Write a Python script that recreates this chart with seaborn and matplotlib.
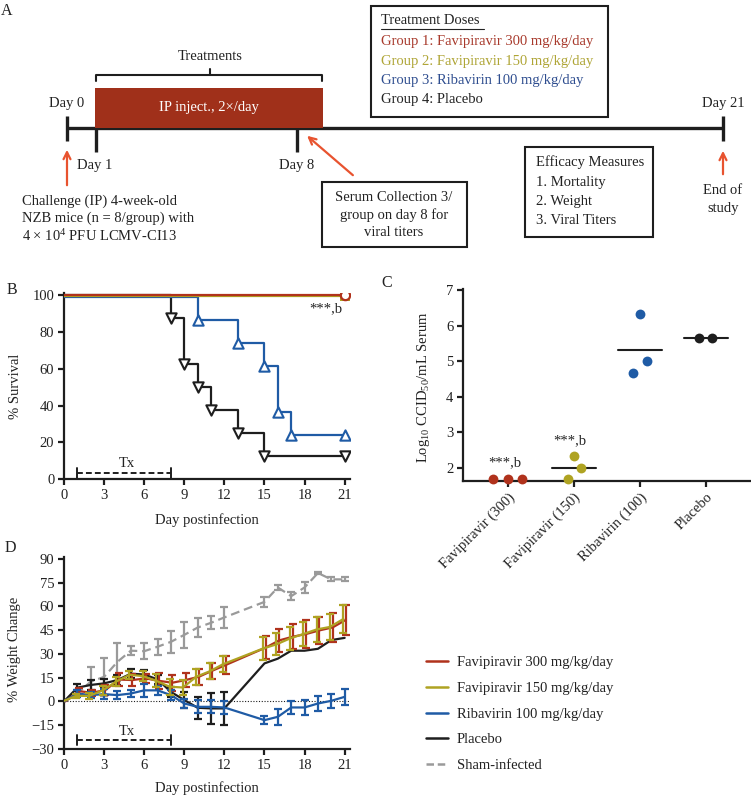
import numpy as np
import pandas as pd
import matplotlib
matplotlib.use("Agg")
import matplotlib.pyplot as plt
import matplotlib.transforms as mtransforms
from matplotlib.patches import Rectangle
from matplotlib.lines import Line2D
import seaborn as sns

# ---------------- data ----------------
# Panel B: survival (Kaplan-Meier)
surv_days_fav300 = [0, 21]
surv_fav300 = [100, 100]
surv_days_fav150 = [0, 21]
surv_fav150 = [100, 100]
surv_days_riba = [0, 10, 13, 15, 16, 17, 21]
surv_riba = [100, 87.5, 75, 62.5, 37.5, 25, 25]
surv_days_placebo = [0, 8, 9, 10, 11, 13, 15, 21]
surv_placebo = [100, 87.5, 62.5, 50, 37.5, 25, 12.5, 12.5]

# Panel C: serum viral titers
titer_groups = ["Favipiravir (300)", "Favipiravir (150)", "Ribavirin (100)", "Placebo"]
titer_fav300 = [1.67, 1.67, 1.67]
titer_fav150 = [1.67, 2.33, 2.0]
titer_riba = [4.66, 6.32, 4.99]
titer_placebo = [5.66, 5.66]

# Panel D: weight change
weight_days = [0, 1, 2, 3, 4, 5, 6, 7, 8, 9, 10, 11, 12, 15, 16, 17, 18, 19, 20, 21]
w_fav300 = [0, 6.5, 5.5, 7.2, 13.8, 13.5, 14.5, 13, 11.8, 13.5, 15.6, 19.4, 23, 34, 38.5, 40.8, 42.5, 44.8, 46.7, 51.5]
w_fav300_err = [0, 2, 2, 3, 4, 4, 3, 5, 5, 4.5, 5, 5, 5.5, 7, 7.5, 8, 9, 8.5, 9, 9.5]
w_fav150 = [0, 3.5, 3.5, 7, 12.5, 16.8, 16, 13, 9.3, 8.8, 15.6, 19, 23.5, 33.4, 36, 39.7, 42.5, 45.4, 47, 52]
w_fav150_err = [0, 1.5, 2, 3, 3, 2.5, 3, 4, 5, 5, 5, 5, 5, 7, 7, 7.5, 7.5, 8, 8, 9]
w_riba = [0, 5, 4, 4.6, 4, 5, 7, 7, 4, -1.3, -3.4, -3.4, -3.8, -11.8, -9.7, -3.8, -3.8, -1.3, 0.4, 2.9]
w_riba_err = [0, 2, 2, 3, 2.5, 2.5, 4, 3, 3, 3, 4, 4, 4, 2.5, 5, 4, 4.5, 4.5, 4.5, 5]
w_placebo = [0, 8.7, 10.4, 11.4, 13.5, 17.5, 17, 13.9, 6, 0.9, -4, -4.4, -4.4, 24, 27, 32, 32, 33.2, 38.7, 40.1]
w_placebo_err = [0, 2, 3, 3, 3, 3, 3, 3, 3, 5, 7, 10, 10.5, np.nan, np.nan, np.nan, np.nan, np.nan, np.nan, np.nan]
w_sham = [0, 5, 12.5, 15.5, 25, 32, 31.7, 34.5, 37.6, 42, 46.6, 49.6, 53, 62.8, 71.9, 66.4, 71.9, 81, 77, 77]
w_sham_err = [0, 2, 9, 12, 12, 3, 5, 5, 7, 8, 6, 4, 6.5, 3, 1.5, 2.5, 3.5, 0.5, 1.3, 1.3]

legend_labels = ["Favipiravir 300 mg/kg/day", "Favipiravir 150 mg/kg/day",
                 "Ribavirin 100 mg/kg/day", "Placebo", "Sham-infected"]

# ---------------- style ----------------
sns.set_style("ticks")
plt.rcParams['font.family'] = ['Liberation Serif', 'DejaVu Serif']
plt.rcParams['mathtext.fontset'] = 'custom'
plt.rcParams['mathtext.rm'] = 'Liberation Serif'
plt.rcParams['mathtext.it'] = 'Liberation Serif:italic'
FS = 10.5
TXT = '#222222'
RED = '#B0321C'
YEL = '#AFA322'
BLU = '#1F5BA5'
BLK = '#1E1E1E'
GRY = '#9A9A9A'
ORANGE = '#E8532F'

W, H = 751, 798
fig = plt.figure(figsize=(W / 100, H / 100), dpi=100)


def px_axes(left, top, right, bottom):
    return fig.add_axes([left / W, 1 - bottom / H, (right - left) / W, (bottom - top) / H])


def style_axes(ax):
    sns.despine(ax=ax)
    for s in ('left', 'bottom'):
        ax.spines[s].set_linewidth(1.6)
        ax.spines[s].set_color(BLK)
    ax.tick_params(width=1.6, length=4, labelsize=FS, colors=BLK, labelcolor=TXT, pad=3)


# ---------------- Panel A (schematic) ----------------
axA = fig.add_axes([0, 1 - 255 / H, 1, 255 / H])
axA.set_xlim(0, W)
axA.set_ylim(255, 0)
axA.axis('off')

axA.text(7, 11, "A", fontsize=FS + 1, color=TXT, ha='center', va='center')
# timeline
axA.plot([66.7, 723], [127.7, 127.7], color=BLK, lw=2.4, solid_capstyle='butt')
axA.plot([66.7, 66.7], [116, 141], color=BLK, lw=2.4, solid_capstyle='butt')
axA.plot([723, 723], [116, 141], color=BLK, lw=2.4, solid_capstyle='butt')
axA.plot([95.7, 95.7], [127, 152], color=BLK, lw=2.4, solid_capstyle='butt')
axA.plot([296.7, 296.7], [127, 152], color=BLK, lw=2.4, solid_capstyle='butt')
axA.add_patch(Rectangle((95, 87.7), 227.7, 40.6, facecolor='#A0301A', edgecolor='none', zorder=3))
axA.text(209, 107.5, "IP inject., 2×/day", color='white', fontsize=FS, ha='center', va='center', zorder=4)
# bracket
axA.plot([95.7, 95.7, 322, 322], [81, 75, 75, 81], color=BLK, lw=1.5)
axA.plot([210, 210], [75, 69], color=BLK, lw=1.5)
axA.text(210, 57, "Treatments", fontsize=FS, color=TXT, ha='center', va='center')
axA.text(67, 104, "Day 0", fontsize=FS, color=TXT, ha='center', va='center')
axA.text(723, 104, "Day 21", fontsize=FS, color=TXT, ha='center', va='center')
axA.text(95, 165, "Day 1", fontsize=FS, color=TXT, ha='center', va='center')
axA.text(297, 165, "Day 8", fontsize=FS, color=TXT, ha='center', va='center')
# arrows
arrow_kw = dict(arrowstyle='->,head_length=0.5,head_width=0.25', color=ORANGE, lw=1.6)
axA.annotate('', xy=(67, 147), xytext=(67, 188), arrowprops=arrow_kw)
axA.annotate('', xy=(305, 134), xytext=(355, 177), arrowprops=arrow_kw)
axA.annotate('', xy=(723, 148), xytext=(723, 177), arrowprops=arrow_kw)
# challenge text
axA.text(21.7, 201, "Challenge (IP) 4-week-old", fontsize=FS, color=TXT, ha='left', va='center')
axA.text(21.7, 218.5, "NZB mice (n = 8/group) with", fontsize=FS, color=TXT, ha='left', va='center')
axA.text(21.7, 236, "4 × 10$^{4}$ PFU LCMV-CI13", fontsize=FS, color=TXT, ha='left', va='center')
# serum box
axA.add_patch(Rectangle((322, 181.7), 144.5, 65, facecolor='none', edgecolor=BLK, lw=1.5))
for yy, t in zip([197.5, 215, 232], ["Serum Collection 3/", "group on day 8 for", "viral titers"]):
    axA.text(394, yy, t, fontsize=FS, color=TXT, ha='center', va='center')
# treatment doses box
axA.add_patch(Rectangle((371, 5.7), 237, 111, facecolor='none', edgecolor=BLK, lw=1.5))
axA.text(380.7, 21, "Treatment Doses", fontsize=FS, color=TXT, ha='left', va='center')
axA.plot([380.7, 483.5], [28.5, 28.5], color=TXT, lw=0.8)
for yy, t, c in zip([41.7, 61, 80.7, 99.3],
                    ["Group 1: Favipiravir 300 mg/kg/day", "Group 2: Favipiravir 150 mg/kg/day",
                     "Group 3: Ribavirin 100 mg/kg/day", "Group 4: Placebo"],
                    ['#A83A2C', '#AFA536', '#2E4D8F', TXT]):
    axA.text(380.7, yy, t, fontsize=FS, color=c, ha='left', va='center')
# efficacy box
axA.add_patch(Rectangle((525, 146.7), 128, 90.3, facecolor='none', edgecolor=BLK, lw=1.5))
for yy, t in zip([161.7, 182.7, 201.7, 220], ["Efficacy Measures", "1. Mortality", "2. Weight", "3. Viral Titers"]):
    axA.text(536, yy, t, fontsize=FS, color=TXT, ha='left', va='center')
axA.text(723, 190.7, "End of", fontsize=FS, color=TXT, ha='center', va='center')
axA.text(723, 208.3, "study", fontsize=FS, color=TXT, ha='center', va='center')

# ---------------- Panel B (survival) ----------------
axB = px_axes(64, 293, 350, 479)
style_axes(axB)


def shifted(ax, dy):
    return mtransforms.offset_copy(ax.transData, fig=fig, x=0, y=dy, units='dots')


surv_specs = [
    (surv_days_placebo, surv_placebo, BLK, 'v', 0.0, 3),
    (surv_days_riba, surv_riba, BLU, '^', -1.8, 4),
    (surv_days_fav150, surv_fav150, YEL, 's', -1.0, 5),
    (surv_days_fav300, surv_fav300, RED, 'o', 0.8, 6),
]
for days, vals, col, mk, dy, z in surv_specs:
    tr = shifted(axB, dy)
    sns.lineplot(x=days, y=vals, ax=axB, color=col, lw=1.6, drawstyle='steps-post',
                 transform=tr, zorder=z, errorbar=None)
    if mk == 's':
        sns.scatterplot(x=days[-1:], y=vals[-1:], ax=axB, marker='s', color=col, s=45,
                        edgecolor=col, linewidth=0, transform=tr, zorder=z)
    elif mk == 'o':
        sns.scatterplot(x=days[-1:], y=vals[-1:], ax=axB, marker='o', color='white', s=45,
                        edgecolor=col, linewidth=1.6, transform=tr, zorder=z + 1)
    else:
        sns.scatterplot(x=days[1:], y=vals[1:], ax=axB, marker=mk, color='white', s=55,
                        edgecolor=col, linewidth=1.5, transform=tr, zorder=z + 1)

axB.set_xlim(0, 21.4)
axB.set_ylim(0, 101.3)
axB.set_xticks(range(0, 22, 3))
axB.set_yticks(range(0, 101, 20))
axB.set_xlabel("Day postinfection", fontsize=FS, color=TXT)
axB.set_ylabel("% Survival", fontsize=FS, color=TXT)
axB.yaxis.set_label_coords(-0.148, 0.5)
axB.xaxis.set_label_coords(0.5, -0.183)
# Tx bar
axB.plot([1, 8], [3.4, 3.4], color=BLK, lw=1.4, ls=(0, (3, 1.6)))
axB.plot([1, 1], [0.8, 6.0], color=BLK, lw=1.4)
axB.plot([8, 8], [0.8, 6.0], color=BLK, lw=1.4)
axB.text(4.7, 8.2, "Tx", fontsize=FS, color=TXT, ha='center', va='center')
axB.text(19.6, 92.5, "***,b", fontsize=FS, color=TXT, ha='center', va='center')
fig.text(12 / W, 1 - 290 / H, "B", fontsize=FS + 1, color=TXT, ha='center', va='center')

# ---------------- Panel C (titers) ----------------
axC = px_axes(463, 289.3, 750, 481)
style_axes(axC)
c_offsets = [[-0.22, 0.0, 0.22], [-0.09, 0.0, 0.11], [-0.1, 0.0, 0.11], [-0.11, 0.1]]
c_values = [titer_fav300, titer_fav150, titer_riba, titer_placebo]
c_colors = [RED, YEL, BLU, BLK]
for i, (vals, offs, col) in enumerate(zip(c_values, c_offsets, c_colors)):
    xs = [i + o for o in offs]
    if i > 0:
        m = float(np.mean(vals))
        axC.plot([i - 0.33, i + 0.33], [m, m], color=BLK, lw=1.5, zorder=2)
    sns.scatterplot(x=xs, y=vals, ax=axC, color=col, s=50, edgecolor=col, linewidth=0,
                    zorder=3, clip_on=False)
axC.set_xlim(-0.677, 3.67)
axC.set_ylim(1.625, 7.02)
axC.set_yticks(range(2, 8))
axC.set_xticks(range(4))
axC.set_xticklabels(titer_groups, rotation=45, ha='right', rotation_mode='anchor')
axC.set_ylabel("Log$_{10}$ CCID$_{50}$/mL Serum", fontsize=FS, color=TXT)
axC.yaxis.set_label_coords(-0.108, 0.49)
axC.text(-0.04, 2.14, "***,b", fontsize=FS, color=TXT, ha='center', va='center')
axC.text(0.94, 2.76, "***,b", fontsize=FS, color=TXT, ha='center', va='center')
fig.text(387 / W, 1 - 283 / H, "C", fontsize=FS + 1, color=TXT, ha='center', va='center')

# ---------------- Panel D (weight) ----------------
axD = px_axes(64, 556.7, 350, 749)
style_axes(axD)
axD.axhline(0, color=BLK, lw=0.8, ls=(0, (1, 1.5)), zorder=1)
d_specs = [
    (w_sham, w_sham_err, GRY, (0, (4, 2.2)), 0.0, 2),
    (w_placebo, w_placebo_err, BLK, '-', 0.0, 3),
    (w_fav300, w_fav300_err, RED, '-', 0.1, 4),
    (w_riba, w_riba_err, BLU, '-', 0.0, 5),
    (w_fav150, w_fav150_err, YEL, '-', -0.1, 6),
]
for vals, errs, col, ls, dx, z in d_specs:
    xs = np.array(weight_days, dtype=float) + dx
    v = np.array(vals, dtype=float)
    e = np.array(errs, dtype=float)
    sns.lineplot(x=xs, y=v, ax=axD, color=col, lw=1.6, linestyle=ls, zorder=z, errorbar=None)
    ok = np.isfinite(e) & (e > 0)
    axD.errorbar(xs[ok], v[ok], yerr=e[ok], fmt='none', ecolor=col, elinewidth=1.6,
                 capsize=2.6, capthick=1.6, zorder=z)
axD.set_xlim(0, 21.4)
axD.set_ylim(-30, 91.3)
axD.set_xticks(range(0, 22, 3))
axD.set_yticks(range(-30, 91, 15))
axD.set_yticklabels([str(t).replace('-', '\u2212') for t in range(-30, 91, 15)])
axD.set_xlabel("Day postinfection", fontsize=FS, color=TXT)
axD.set_ylabel("% Weight Change", fontsize=FS, color=TXT)
axD.yaxis.set_label_coords(-0.151, 0.52)
axD.xaxis.set_label_coords(0.5, -0.166)
axD.plot([1, 8], [-24.4, -24.4], color=BLK, lw=1.4, ls=(0, (3, 1.6)))
axD.plot([1, 1], [-27.5, -21.3], color=BLK, lw=1.4)
axD.plot([8, 8], [-27.5, -21.3], color=BLK, lw=1.4)
axD.text(4.7, -18.8, "Tx", fontsize=FS, color=TXT, ha='center', va='center')
fig.text(10 / W, 1 - 548 / H, "D", fontsize=FS + 1, color=TXT, ha='center', va='center')

# legend
handles = [Line2D([], [], color=c, lw=1.8, ls=l) for c, l in
           [(RED, '-'), (YEL, '-'), (BLU, '-'), (BLK, '-'), (GRY, (0, (3, 1.5)))]]
fig.legend(handles, legend_labels, loc='upper left', bbox_to_anchor=(426 / W, 1 - 656 / H),
           frameon=False, fontsize=FS, handlelength=1.5, handletextpad=0.6,
           labelspacing=0.86, borderpad=0, borderaxespad=0, labelcolor=TXT)

fig.savefig("out.png", dpi=100)
